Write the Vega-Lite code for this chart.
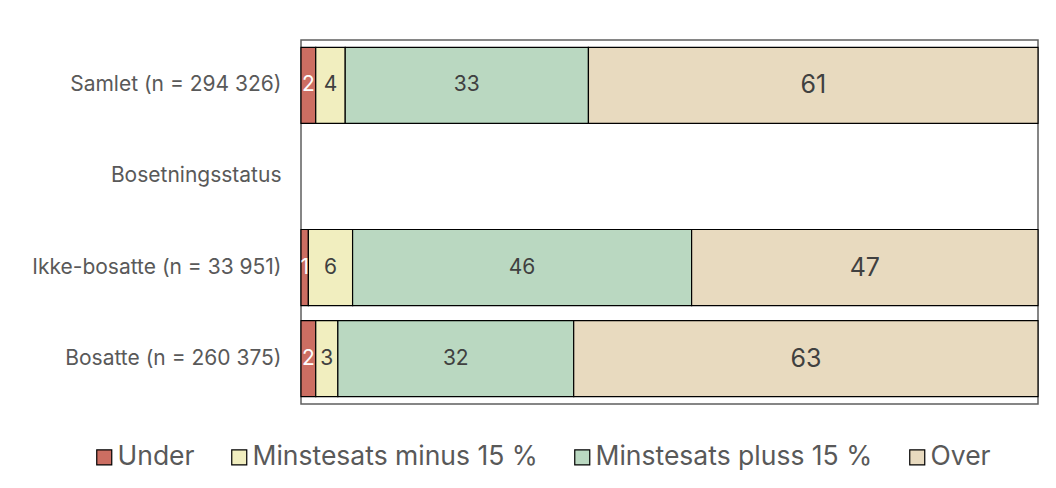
{
  "$schema": "https://vega.github.io/schema/vega-lite/v6.json",
  "width": 737,
  "height": 364,
  "autosize": {"type": "none"},
  "padding": {"left": 301, "top": 40, "right": 18, "bottom": 84},
  "background": "white",
  "config": {
    "font": "Inter",
    "view": {"stroke": "#5f5f5f", "strokeWidth": 1.5}
  },
  "data": {
    "values": [
      {"group": "Samlet (n = 294 326)", "cat": "Under", "ord": 1, "value": 2},
      {"group": "Samlet (n = 294 326)", "cat": "Minstesats minus 15 %", "ord": 2, "value": 4},
      {"group": "Samlet (n = 294 326)", "cat": "Minstesats pluss 15 %", "ord": 3, "value": 33},
      {"group": "Samlet (n = 294 326)", "cat": "Over", "ord": 4, "value": 61},
      {"group": "Ikke-bosatte (n = 33 951)", "cat": "Under", "ord": 1, "value": 1},
      {"group": "Ikke-bosatte (n = 33 951)", "cat": "Minstesats minus 15 %", "ord": 2, "value": 6},
      {"group": "Ikke-bosatte (n = 33 951)", "cat": "Minstesats pluss 15 %", "ord": 3, "value": 46},
      {"group": "Ikke-bosatte (n = 33 951)", "cat": "Over", "ord": 4, "value": 47},
      {"group": "Bosatte (n = 260 375)", "cat": "Under", "ord": 1, "value": 2},
      {"group": "Bosatte (n = 260 375)", "cat": "Minstesats minus 15 %", "ord": 2, "value": 3},
      {"group": "Bosatte (n = 260 375)", "cat": "Minstesats pluss 15 %", "ord": 3, "value": 32},
      {"group": "Bosatte (n = 260 375)", "cat": "Over", "ord": 4, "value": 63}
    ]
  },
  "encoding": {
    "y": {
      "field": "group",
      "type": "nominal",
      "title": null,
      "scale": {
        "domain": ["Samlet (n = 294 326)", "Bosetningsstatus", "Ikke-bosatte (n = 33 951)", "Bosatte (n = 260 375)"],
        "paddingInner": 0.165,
        "paddingOuter": 0.08
      },
      "axis": {
        "ticks": false,
        "domain": false,
        "labelFontSize": 21,
        "labelColor": "#595959",
        "labelPadding": 20,
        "labelLimit": 400
      }
    },
    "x": {
      "field": "value",
      "type": "quantitative",
      "stack": "zero",
      "scale": {"domain": [0, 100], "nice": false},
      "axis": null
    },
    "order": {"field": "ord", "type": "quantitative"}
  },
  "layer": [
    {
      "mark": {"type": "bar", "stroke": "black", "strokeWidth": 1.2},
      "encoding": {
        "color": {
          "field": "cat",
          "type": "nominal",
          "scale": {
            "domain": ["Under", "Minstesats minus 15 %", "Minstesats pluss 15 %", "Over"],
            "range": ["#CC6E62", "#F1EEBF", "#BAD8C1", "#E8DABF"]
          },
          "legend": {
            "title": null,
            "orient": "none",
            "direction": "horizontal",
            "padding": 0,
            "legendX": -210,
            "legendY": 404,
            "symbolType": "square",
            "symbolSize": 225,
            "symbolStrokeColor": "black",
            "symbolStrokeWidth": 1.2,
            "symbolOpacity": 1,
            "labelFontSize": 26.5,
            "labelColor": "#595959",
            "labelOffset": 0,
            "columnPadding": 31,
            "labelLimit": 500
          }
        }
      }
    },
    {
      "mark": {"type": "text", "align": "center", "baseline": "middle"},
      "encoding": {
        "x": {
          "field": "value",
          "type": "quantitative",
          "stack": "zero",
          "bandPosition": 0.5
        },
        "text": {"field": "value", "type": "quantitative"},
        "fill": {
          "condition": {"test": "datum.cat === 'Under'", "value": "white"},
          "value": "#404040"
        },
        "size": {
          "condition": {"test": "datum.cat === 'Over'", "value": 25},
          "value": 21
        }
      }
    }
  ]
}
